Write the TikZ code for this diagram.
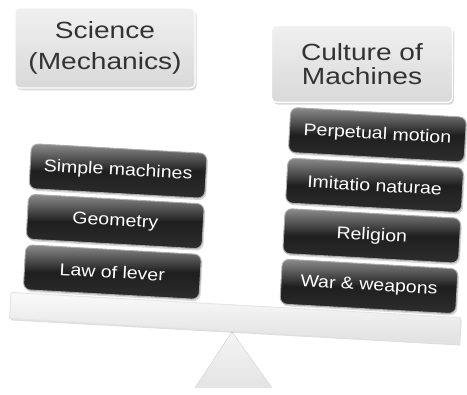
\documentclass[tikz,border=0pt]{standalone}
\usepackage{fontspec}
\setmainfont{Liberation Sans}
\usepackage{tikz}
\usetikzlibrary{positioning}
\usetikzlibrary{shadows}
\tikzstyle{plank} = [draw=gray!20, line width=0.8pt, top color=gray!4, bottom color=gray!24, drop shadow={opacity=0.25, shadow xshift=0.4mm, shadow yshift=-0.6mm}]

\begin{document}
\begin{tikzpicture}[x=0.03cm, y=0.03cm,
    headbox/.style={draw=white, line width=1pt, top color=gray!12, bottom color=gray!30, rounded corners=4pt, align=center, text=black!80, xscale=1.2, transform shape, drop shadow={opacity=0.3, shadow xshift=0.5mm, shadow yshift=-0.7mm}},
    darkbox/.style={draw=gray!65, line width=0.8pt, top color=black!45, bottom color=black!82, middle color=black!88, rounded corners=6pt, minimum width=4.59cm, minimum height=1.35cm, text=white, font=\fontsize{14.5}{17}\selectfont, xscale=1.15, drop shadow={opacity=0.3, shadow xshift=0.4mm, shadow yshift=-0.6mm}, transform shape}]
			
			\node[headbox, minimum width=4.5cm, minimum height=2.4cm, font=\fontsize{20}{27}\selectfont] at (105,347) (science) {Science\\(Mechanics)};
			\node[headbox, minimum width=4.52cm, minimum height=2.3cm, font=\fontsize{20}{20}\selectfont] at (362,331) (culture) {Culture of\\Machines};
			
			% pivot under the beam
			\coordinate (pivot) at (232,63);
			\filldraw[draw=gray!20, top color=gray!8, bottom color=gray!22] (195,7) -- (pivot) -- (272,7) -- cycle;
			
			\begin{scope}[shift={(235,77)}, rotate=-3.2]
				\node[plank, minimum width=13.5cm, minimum height=0.78cm, transform shape] at (0,0) (beam) {};
				
				\node[darkbox] at (-125,39) (law) {Law of lever};
				\node[darkbox, above=4pt of law] (geo) {Geometry};
				\node[darkbox, above=4pt of geo] (sm) {Simple machines};
				
				\node[darkbox] at (132,39) (war) {War \& weapons};
				\node[darkbox, above=4pt of war] (rel) {Religion};
				\node[darkbox, above=4pt of rel] (imit) {Imitatio naturae};
				\node[darkbox, above=4pt of imit] (pm) {Perpetual motion};
			\end{scope}
			
			\pgfresetboundingbox
			\useasboundingbox (0,0) rectangle (467,395);
		\end{tikzpicture}
\end{document}
